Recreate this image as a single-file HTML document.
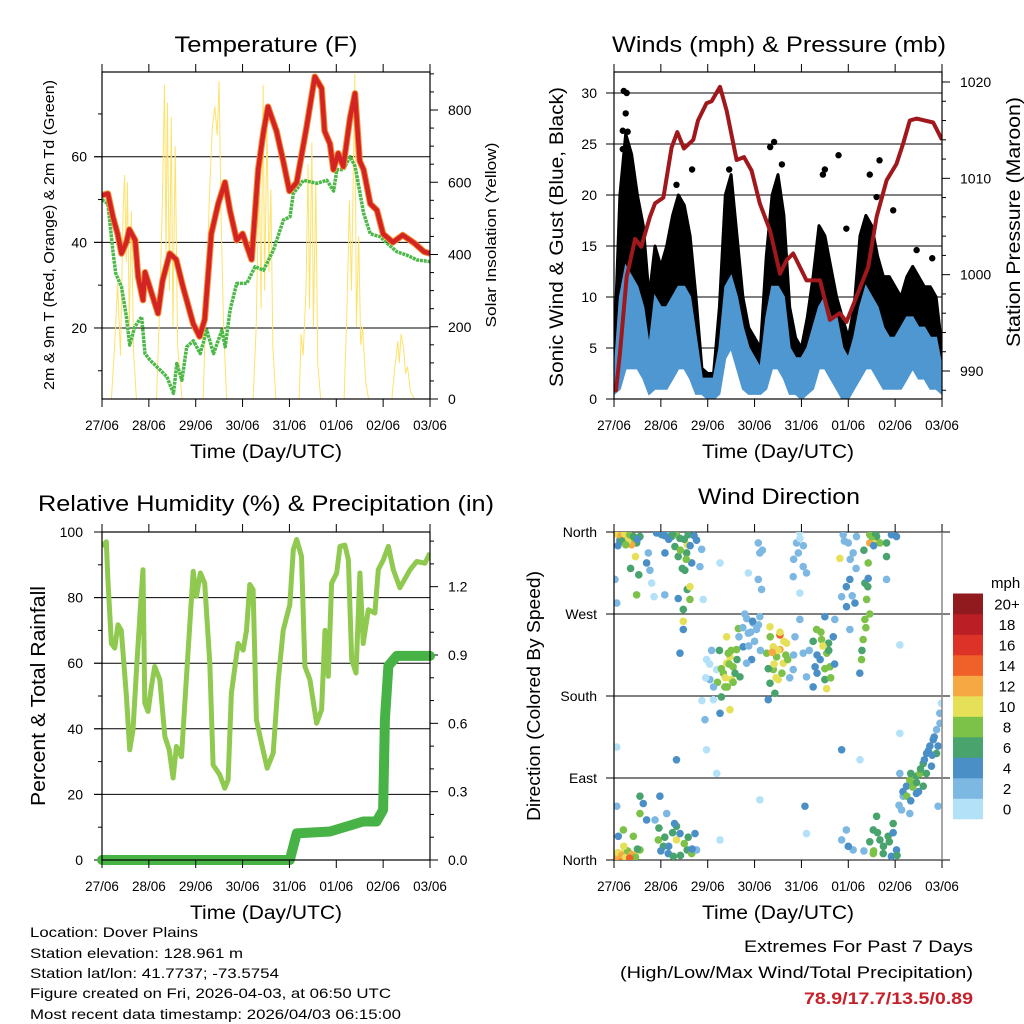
<!DOCTYPE html>
<html><head><meta charset="utf-8"><title>Station Meteogram</title>
<style>
html,body{margin:0;padding:0;background:#fff;}
svg{display:block;font-family:"Liberation Sans",Arial,sans-serif;}
</style></head>
<body>
<svg id="root" width="1024" height="1024" viewBox="0 0 1024 1024" xmlns="http://www.w3.org/2000/svg">
<rect x="0" y="0" width="1024" height="1024" fill="#fff"/>
<text x="266" y="52" font-size="22" text-anchor="middle" textLength="183" lengthAdjust="spacingAndGlyphs">Temperature (F)</text>
<text x="779" y="52" font-size="22" text-anchor="middle" textLength="334" lengthAdjust="spacingAndGlyphs">Winds (mph) &amp; Pressure (mb)</text>
<text x="266" y="511" font-size="22" text-anchor="middle" textLength="456" lengthAdjust="spacingAndGlyphs">Relative Humidity (%) &amp; Precipitation (in)</text>
<text x="779" y="504" font-size="22" text-anchor="middle" textLength="162" lengthAdjust="spacingAndGlyphs">Wind Direction</text>

<text transform="translate(54,235) rotate(-90)" font-size="15" text-anchor="middle" textLength="310" lengthAdjust="spacingAndGlyphs">2m &amp; 9m T (Red, Orange) &amp; 2m Td (Green)</text>
<text transform="translate(496,235) rotate(-90)" font-size="15" text-anchor="middle" textLength="185" lengthAdjust="spacingAndGlyphs">Solar Insolation (Yellow)</text>
<text transform="translate(563,237) rotate(-90)" font-size="19" text-anchor="middle" textLength="300" lengthAdjust="spacingAndGlyphs">Sonic Wind &amp; Gust (Blue, Black)</text>
<text transform="translate(1020,222) rotate(-90)" font-size="19" text-anchor="middle" textLength="250" lengthAdjust="spacingAndGlyphs">Station Pressure (Maroon)</text>
<text transform="translate(45,696) rotate(-90)" font-size="20" text-anchor="middle" textLength="220" lengthAdjust="spacingAndGlyphs">Percent &amp; Total Rainfall</text>
<text transform="translate(540,696) rotate(-90)" font-size="18" text-anchor="middle" textLength="250" lengthAdjust="spacingAndGlyphs">Direction (Colored By Speed)</text>

<text x="266" y="458" font-size="19" text-anchor="middle" textLength="152" lengthAdjust="spacingAndGlyphs">Time (Day/UTC)</text>
<text x="778" y="458" font-size="19" text-anchor="middle" textLength="152" lengthAdjust="spacingAndGlyphs">Time (Day/UTC)</text>
<text x="266" y="919" font-size="19" text-anchor="middle" textLength="152" lengthAdjust="spacingAndGlyphs">Time (Day/UTC)</text>
<text x="778" y="919" font-size="19" text-anchor="middle" textLength="152" lengthAdjust="spacingAndGlyphs">Time (Day/UTC)</text>

<g font-size="14">
<text x="30" y="937" textLength="168" lengthAdjust="spacingAndGlyphs">Location: Dover Plains</text>
<text x="30" y="958" textLength="213" lengthAdjust="spacingAndGlyphs">Station elevation: 128.961 m</text>
<text x="30" y="978" textLength="249" lengthAdjust="spacingAndGlyphs">Station lat/lon: 41.7737; -73.5754</text>
<text x="30" y="998" textLength="361" lengthAdjust="spacingAndGlyphs">Figure created on Fri, 2026-04-03, at 06:50 UTC</text>
<text x="30" y="1019" textLength="371" lengthAdjust="spacingAndGlyphs">Most recent data timestamp: 2026/04/03 06:15:00</text>
</g>
<g font-size="17" text-anchor="end">
<text x="973" y="952" textLength="229" lengthAdjust="spacingAndGlyphs">Extremes For Past 7 Days</text>
<text x="973" y="978" textLength="353" lengthAdjust="spacingAndGlyphs">(High/Low/Max Wind/Total Precipitation)</text>
<text x="973" y="1004" font-weight="bold" fill="#c8202a" textLength="169" lengthAdjust="spacingAndGlyphs">78.9/17.7/13.5/0.89</text>
</g>
<g id="charts"></g>
</svg>
<script>
// ---- time axis ----
const dayLabels = ["27/06","28/06","29/06","30/06","31/06","01/06","02/06","03/06"];
// ---- temperature panel ----
const tempTimes = [0,3,5.6,8,10,12.5,14,17,18.5,21,22,24.4,28.7,31,34.7,38,41.5,46.7,50,52.6,56,59.5,63,65.5,69,72,76.6,80,82.6,85,89.4,92.8,96,99.7,104.8,109,112.5,114,116.8,118.5,121,123.6,127,129.6,132,134,137.4,140.8,144,149,154,160,165,168];
const tempValues = [51,51.4,46,42,37.4,40,43,40.5,32,26.5,33,29.6,23.4,31,37.4,36,29.6,21,18,22,42,49,54,47.5,40.5,42,36,57,65.5,71.7,66,59,52,54,67,78.7,76,66,63,57,60.8,57.7,69,74.8,59,57,49,47.5,42,40,41.7,39.8,37.8,37.4];
const dewTimes = [0,3,5.6,7,10,12.5,14.2,16.8,20.3,22,24.6,29.7,33.2,36.6,38.3,40.9,43.4,46.8,50.3,53.7,57.1,61.4,63.1,65.6,69,74.1,78.4,82.7,87.8,92.9,96.3,98,103.2,110,115.2,118.6,120.3,123.7,127.1,129.7,132.2,134,137.4,142.6,146,151.1,156.2,161.3,168];
const dewValues = [50,49,38,32.8,29.6,22.6,16,20.3,22.6,14,12.5,10.2,8.6,4.7,11.7,7.8,15.6,17,14,19.5,14,19.5,15.6,24.2,30.4,30.4,34.3,33.5,38.2,45.2,46,51.4,54.5,53.8,54.5,52,57,57,60,57.7,51.4,46.8,42,41.3,39.8,37.8,37,35.9,35.5];
const solarTimes = [0,4.8,6.5,8,9.5,10.8,11.6,12.4,13,14,15,16.2,17.6,27.9,29.5,31,32,32.8,33.5,34.5,35.5,36.3,37.5,38.7,41,51.8,53.5,55,56.5,57.8,59,60,61,62.3,63.8,77.4,79,80.5,81.5,82.5,83.3,84.5,85.5,86.5,87.5,89,101,102,103,104.5,105.5,106.3,107.5,108.3,109.5,110.5,112,124,125.5,126.7,127.8,129.5,130.3,131.5,132.5,133.5,135,136.5,148.5,150,151.5,152.3,153.2,154.5,155.5,156.5,158,160,168];
const solarValues = [0,0,150,320,120,520,620,380,600,200,520,130,0,0,250,560,870,400,820,300,780,200,700,150,0,0,300,560,750,810,730,880,500,200,0,0,200,650,250,870,300,760,350,580,150,0,0,180,120,300,650,250,710,200,600,100,0,0,250,550,300,900,200,450,150,200,50,0,0,90,160,100,180,140,70,90,20,0,0];
const tempTicks = [20,40,60];
const solarTicks = [0,200,400,600,800];
// ---- wind panel ----
const windTimes = [0,3,6,9,12,15,18,21,24,27,30,33,36,39,42,45,48,51,54,57,60,63,66,69,72,75,78,81,84,87,90,93,96,99,102,105,108,111,114,117,120,123,126,129,132,135,138,141,144,147,150,153,156,159,162,165,168];
const windLow = [0.5,1,3,3,3,2,0.5,1,1,1,2,3,3,2,0.5,0.5,0,0,0.5,4,5,3,1,0.5,0.5,0.5,1,3,3,2,0.5,0.5,0,0.5,1,3,3,2,1,0,0,1,2,3,3,2,1,1,1,1,2,3,2,2,1,1,0.5];
const windHigh = [2,10,13,12,11,9,5,10,9,9,10,11,11,10,6,2,2,2,5,11,12,10,7,5,4,3,8,11,11,10,5,4,4,5,7,9,10,8,8,5,4,6,9,11,10,9,7,6,6,7,8,8,7,7,6,6,3];
const gustLow = [1,5,8,8,8,5,2,5,5,6,7,8,8,5,3,1,1,1,3,10,10,7,4,3,2,2,4,7,8,6,3,2,2,3,4,7,6,5,3,2,1,3,6,8,8,6,4,4,4,4,6,7,6,6,5,4,2];
const gustHigh = [4,20,26,24,20,17,10,15,13,15,18,20,19,16,10,3,2.5,2.5,9,20,22,16,10,7,6,5,14,20,22,18,9,6,5,8,12,17,16,13,10,8,6,9,16,18,17,14,12,12,11,10,12,13,12,11,11,10,5];
const gustOutT = [5,6.5,6,4.5,7,4.5,32,40,59,80,82,86,107,108,115,119,131,136,143,134.5,155,163];
const gustOutV = [30.2,30,28,26.3,26.2,24.5,21,22.5,22.5,24.7,25.2,23,22,22.5,23.9,16.7,22,23.4,18.5,19.8,14.6,13.8];
const presTimes = [0,1,3,6.5,10.8,14,18.4,21,25.3,29.5,32.4,35.8,40.6,43,47.4,50,54.3,57.7,62.8,66.6,70.5,74.7,79.9,85,88.4,91.8,98.6,105.5,110.6,115.7,119.1,123.4,130.2,134.5,139.6,144.7,148.1,151.5,155,163.5,168];
const presValues = [988.7,988,991.8,999.8,1003.7,1002.9,1006,1007.4,1008,1013.2,1014.8,1013.1,1014,1016,1017.8,1018,1019.5,1017,1011.9,1012.2,1010.8,1007.4,1004.6,1000.1,1001.5,1002.2,999.4,999.4,995.3,996,995.1,997.3,1000.8,1006,1009.8,1011.5,1013.6,1016,1016.2,1015.8,1014];
const windTicks = [0,5,10,15,20,25,30];
const presTicks = [990,1000,1010,1020];
// ---- humidity panel ----
const rhTimes = [0,2.2,3,4.8,6.5,8.2,9.9,12.5,14.2,15.9,17.9,19.8,21,21.9,23.6,25.3,27,29.6,32.2,34.4,36.4,38.1,40.7,43.2,46.7,48.4,50.4,52.6,55.2,56.9,60.3,62.9,64.6,66.3,69.7,72.3,74,75.7,77.4,79.1,81.7,84.6,87.7,90.3,92.8,96.2,98,99.7,102.2,103.9,106.5,109.9,112.5,114.2,115.9,117.6,120.2,121.9,124.4,126.2,127.9,130.1,132.1,133.8,136.4,139.8,141.5,144.1,146.7,149.2,152.6,157.8,161.2,165.4,168];
const rhValues = [95.6,97,85.5,66,64.6,71.7,70,50,33.6,39.7,60,78.3,88.5,47.8,45.3,52.9,59,55,37.6,33.6,25,34.6,31.5,55,88,80.4,87.5,84.4,60,29,26,21.9,24.4,50.9,66,64,70,84,82.4,42.7,35.6,28,32.6,55,70,77.8,94.6,97.7,92.6,59,55,41.7,45.8,70,56,84.4,87.5,95.6,96,91.5,61,57,87.5,66,76.3,75.3,88.5,91.5,95.6,88.5,83,88.5,91,90.5,93.6];
const precipTimes = [0,96.2,99.7,116.8,125.3,133.8,140.6,144,144.9,146.7,151,168];
const precipValues = [0,0,0.117,0.125,0.147,0.169,0.169,0.22,0.617,0.852,0.896,0.896];
const rhTicks = [0,20,40,60,80,100];
const precipTicks = [0.0,0.3,0.6,0.9,1.2];
// ---- wind direction panel ----
const dirLabels = ["North","East","South","West","North"];
const dirTickDeg = [0,90,180,270,360];
const speedBins = ["0","2","4","6","8","10","12","14","16","18","20+"];
const speedColors = ["#b3e1f7","#7db8e2","#4a8fc6","#48a36d","#7cc148","#e6e059","#f6a843","#ef6128","#dc3228","#bb1f25","#901a1e"];
const dirT = [2.2,4.8,6.5,8.2,9.9,11.6,13.3,9,11,12.7,11.6,8.5,3,0.5,1.4,17.6,18.4,19.3,16.7,20.5,26,
21.8,24.4,27,29.5,31.2,32.9,32,33.8,37.5,37.2,38,36.3,37.5,35.5,35.5,35.5,38.9,38.9,42.3,44.9,44,45.7,39.8,33.8,26.1,32.9,
56,57.7,59.4,61,62.8,56.8,60.2,64.5,58.5,55,54.3,50.9,49.1,47.4,46.6,52.6,66.2,68.8,71.3,73,74.7,70.5,67.9,57.7,63.7,59.4,
79.9,81.6,83.3,85,86.7,88.4,81.6,84.1,79.9,82.4,79,85,89,91.8,92.7,95.2,96.9,98.6,78.2,
103.8,106.3,109,110.6,108,105.6,103,109.9,102,112.3,113.1,108,108.9,
73.9,74.7,73.9,75.6,93.5,95.2,94.4,96.9,91.8,98.6,95.2,117.4,120,122.5,115.7,120.8,116.6,119.1,124.2,123.4,120.8,125.9,
131,132.8,131,134.5,136.2,139.6,142.1,144.7,130.2,128.5,129.4,128.5,127.6,126.8,130.2,139.6,139.6,146.4,
3,5.6,8.2,10.8,3.9,13.3,2.2,4.8,9.9,13.3,15,13.3,16.7,1.4,22.7,25.3,27.8,30.4,32,33.8,37.5,39.8,42.3,23.5,27,32,21,41.5,
116.6,119,122.5,132.8,132.8,134.5,136.2,137.9,140.4,142.1,143,144.7,147.3,148.1,149.8,151.5,153.2,154.9,156.7,158.4,160.1,161.8,163.5,165.2,166.9,167.7,154.9,151.5,162.6,165.2,158.4,146.4,146.4,166,
54.3,68.8,74.7,97.8,98.6,54.3,47.4,52.6,116.6,126,1.4,32,
1,3.5,5.5,7,8,10,4,6,12,2,
1,2,4,6,7,9,11,12,5,8,
24,26,28,30,34,36,38,40,23,31,
23,26,28,30,34,36,39,41,37,35,
53,55,57,59,61,63,54,58,60,62,47,49,51,45,50,
64,66,68,70,72,74,67,71,75,69,
80,82,84,86,88,83,81,87,79,85,90,92,
102,104,106,108,110,107,111,104,100,113,
128,130,131,129,127,132,134,133,
120,128,131,133,135,138,141,143,145,146,148,150,152,153,155,157,159,161,163,164,166,167,152,156,160,
76,92,95,97,118,121,124,119,122];
const dirDeg = [357,355,357,353,351,348,355,346,333,313,291,320,351,308,282,337,318,304,326,289,291,
359,357,359,355,344,333,357,353,346,337,357,318,297,275,262,253,300,286,351,341,322,286,326,227,337,287,
205,216,223,212,231,190,198,201,227,179,161,176,198,220,154,209,234,249,260,253,267,220,216,245,254,165,
256,234,223,231,216,238,209,198,194,183,176,247,220,209,245,264,227,201,227,
253,242,227,212,198,220,212,238,190,245,264,267,188,
348,337,308,297,348,353,337,322,311,315,293,357,348,337,331,308,289,278,355,282,253,205,
357,351,348,355,348,348,357,355,326,304,286,264,242,220,309,333,308,236,
7,9,7,5,2,11,26,33,26,51,62,70,44,59,22,15,7,4,22,29,11,7,11,70,51,37,44,29,
22,33,11,7,33,48,22,7,26,4,40,11,55,70,81,88,84,92,95,106,117,125,132,143,161,172,73,51,103,117,81,139,95,59,
326,315,66,59,29,22,121,95,121,110,124,110,
358,356,358,350,357,355,350,346,352,345,
3,8,5,3,10,6,3,12,15,2,
10,25,15,30,5,18,25,12,35,40,
359,356,352,358,340,352,345,356,330,320,
195,210,200,215,195,220,230,190,230,205,200,215,190,175,230,
245,255,265,250,240,258,270,262,230,235,
245,215,230,205,225,200,228,240,210,250,200,225,
240,225,250,210,230,235,200,205,230,215,
340,300,270,255,230,355,358,345,
15,10,20,10,30,15,20,30,5,60,75,70,95,80,85,100,110,120,115,135,125,150,65,75,95,
340,330,360,345,350,330,320,300,290];
const dirSpd = [10,12,12,10,8,6,6,12,10,6,8,6,4,2,2,2,2,0,4,0,2,
4,4,2,6,6,6,8,6,10,6,6,6,6,6,10,4,10,8,4,2,2,0,4,4,4,4,
8,10,10,8,8,8,10,6,8,6,4,0,2,0,2,0,4,2,2,2,2,4,2,10,8,10,
10,10,8,12,10,10,8,10,6,6,4,14,8,2,2,2,2,2,8,
8,8,8,8,6,4,4,6,4,4,2,4,10,
2,2,2,2,2,0,2,2,2,2,0,2,2,2,10,4,2,4,2,4,2,4,
8,10,12,6,8,6,4,4,8,6,8,8,8,8,4,6,2,0,
12,10,12,10,14,8,4,8,8,8,4,6,4,2,8,6,4,6,10,4,6,8,2,4,2,6,2,4,
2,2,2,8,6,6,6,6,6,4,6,4,2,2,4,8,8,6,8,6,4,4,4,2,2,0,4,2,4,6,6,0,2,2,
0,0,0,4,0,0,0,0,4,0,0,4,
10,12,10,10,8,6,6,8,4,4,
12,10,12,10,8,12,8,6,10,14,
4,6,4,6,6,8,6,4,6,4,
4,4,4,6,8,6,4,4,8,6,
8,8,10,8,8,6,6,8,8,6,0,0,2,0,2,
2,2,2,2,2,2,2,4,2,2,
8,10,10,8,8,10,12,10,6,10,2,2,
6,4,8,8,6,10,8,4,2,4,
6,6,8,8,6,8,6,4,
4,2,6,8,6,6,6,4,6,2,4,8,6,8,6,6,4,4,4,4,4,2,4,4,6,
2,2,0,2,2,2,2,4,2];

const NS = "http://www.w3.org/2000/svg";
const charts = document.getElementById("charts");
function mk(tag, attrs, parent, text){
  const e = document.createElementNS(NS, tag);
  for (const k in attrs) e.setAttribute(k, attrs[k]);
  if (text !== undefined) e.textContent = text;
  (parent || charts).appendChild(e);
  return e;
}
const P = {
  temp:{x0:102,x1:430,y0:72,y1:399},
  wind:{x0:614,x1:942,y0:72,y1:399},
  rh:{x0:102,x1:430,y0:532,y1:860},
  dir:{x0:614,x1:942,y0:532,y1:860}
};
function xScale(p){ return t => p.x0 + t/168*(p.x1-p.x0); }
function lin(d0,d1,r0,r1){ return v => r0 + (v-d0)/(d1-d0)*(r1-r0); }
const xT = xScale(P.temp), xW = xScale(P.wind), xR = xScale(P.rh), xD = xScale(P.dir);
const yT = lin(3.4,79.8,399,72);
const yS = lin(0,800,399,110);
const yWs = lin(0,30,399,93);
const yP = lin(990,1020,371,82);
const yR = lin(0,100,860,532);
const yPr = lin(0,0.9,860,655);
const yD = lin(0,360,860,532);

function pathD(ts, vs, xs, ys){
  return ts.map((t,i)=>(i?"L":"M")+xs(t).toFixed(1)+","+ys(vs[i]).toFixed(1)).join("");
}
function bandD(ts, lo, hi, xs, ys){
  let d = ts.map((t,i)=>(i?"L":"M")+xs(t).toFixed(1)+","+ys(hi[i]).toFixed(1)).join("");
  for (let i=ts.length-1;i>=0;i--) d += "L"+xs(ts[i]).toFixed(1)+","+ys(lo[i]).toFixed(1);
  return d+"Z";
}
function clip(id,p){
  const cp = mk("clipPath",{id:id});
  mk("rect",{x:p.x0,y:p.y0,width:p.x1-p.x0,height:p.y1-p.y0},cp);
}
clip("cT",P.temp); clip("cW",P.wind); clip("cR",P.rh); clip("cD",P.dir);

function timeAxis(p, xs, name){
  const g = mk("g",{});
  
  
  dayLabels.forEach((lab,i)=>{
    const x = xs(i*24);
    mk("line",{x1:x,x2:x,y1:p.y1,y2:p.y1+8,stroke:"#000","stroke-width":1},g);
    mk("line",{x1:x,x2:x,y1:p.y0,y2:p.y0-8,stroke:"#000","stroke-width":1},g);
    const tx = mk("text",{x:x,y:p.y1+31,"font-size":13.5,"text-anchor":"middle"},g,lab);
    
    
  });
}
function yAxis(p, ys, majors, minors, side, fmt, grid, name, labelX){
  const g = mk("g",{});
  
  
  const xe = side==="left"?p.x0:p.x1, dir = side==="left"?-1:1;
  minors.forEach(v=>{ const y=ys(v); mk("line",{x1:xe,x2:xe+dir*4,y1:y,y2:y,stroke:"#000"},g); });
  majors.forEach(v=>{
    const y=ys(v);
    if (grid) mk("line",{x1:p.x0-8,x2:p.x1,y1:y,y2:y,stroke:"#000","stroke-width":1},g);
    mk("line",{x1:xe,x2:xe+dir*8,y1:y,y2:y,stroke:"#000"},g);
    const tx = mk("text",{x:labelX,y:y+5,"font-size":14,"text-anchor":side==="left"?"end":"start"},g,fmt(v));
    
    
  });
}
function range(a,b,s){ const r=[]; for(let v=a; v<=b+1e-9; v+=s) r.push(+v.toFixed(3)); return r; }

// ===== Temperature panel =====
yAxis(P.temp, yT, tempTicks, [10,30,50,70], "left", v=>String(v), true, "temperature-y-axis", 87);
yAxis(P.temp, yS, solarTicks, range(50,900,50).filter(v=>v%200), "right", v=>String(v), false, "solar-y-axis", 448);
const solar = mk("path",{d:pathD(solarTimes,solarValues,xT,yS),fill:"none",stroke:"#fde26a","stroke-width":1,"clip-path":"url(#cT)"});


const dew = mk("path",{d:pathD(dewTimes,dewValues,xT,yT),fill:"none",stroke:"#4cb848","stroke-width":3.5,"stroke-dasharray":"3 0.8","stroke-linejoin":"round","clip-path":"url(#cT)"});


const t9 = mk("path",{d:pathD(tempTimes,tempValues,xT,yT),fill:"none",stroke:"#f28a2e","stroke-width":6.5,"stroke-linejoin":"round","clip-path":"url(#cT)"});


const t2 = mk("path",{d:pathD(tempTimes,tempValues,xT,yT),fill:"none",stroke:"#d42323","stroke-width":4.5,"stroke-linejoin":"round","clip-path":"url(#cT)"});


timeAxis(P.temp, xT, "temperature");
const bT = mk("rect",{x:P.temp.x0,y:P.temp.y0,width:328,height:327,fill:"none",stroke:"#000","stroke-width":1.2});



// ===== Wind panel =====
yAxis(P.wind, yWs, windTicks, [], "left", v=>String(v), true, "wind-y-axis", 597);
yAxis(P.wind, yP, presTicks, range(988,1020,2).filter(v=>v%10), "right", v=>String(v), false, "pressure-y-axis", 960);
const gust = mk("path",{d:bandD(windTimes,gustLow,gustHigh,xW,yWs),fill:"#000",stroke:"#000","stroke-width":3,"stroke-linejoin":"round","clip-path":"url(#cW)"});


gustOutT.forEach((t,i)=>{
  const c = mk("circle",{cx:xW(t),cy:yWs(gustOutV[i]),r:3.2,fill:"#000"});
  
  
});
const wind = mk("path",{d:bandD(windTimes,windLow,windHigh,xW,yWs),fill:"#4f97d1",stroke:"#4f97d1","stroke-width":2,"clip-path":"url(#cW)"});


const pres = mk("path",{d:pathD(presTimes,presValues,xW,yP),fill:"none",stroke:"#a0181c","stroke-width":4,"stroke-linejoin":"round","clip-path":"url(#cW)"});


timeAxis(P.wind, xW, "winds");
const bW = mk("rect",{x:P.wind.x0,y:P.wind.y0,width:328,height:327,fill:"none",stroke:"#000","stroke-width":1.2});



// ===== Humidity panel =====
yAxis(P.rh, yR, rhTicks, [10,30,50,70,90], "left", v=>String(v), true, "humidity-y-axis", 83);
yAxis(P.rh, yPr, precipTicks, range(0.1,1.4,0.1).filter(v=>Math.round(v*10)%3), "right", v=>v.toFixed(1), false, "precip-y-axis", 448);
const rh = mk("path",{d:pathD(rhTimes,rhValues,xR,yR),fill:"none",stroke:"#8fc94f","stroke-width":5,"stroke-linejoin":"round","clip-path":"url(#cR)"});


const pr = mk("path",{d:pathD(precipTimes,precipValues,xR,yPr),fill:"none",stroke:"#47b347","stroke-width":10,"stroke-linejoin":"round","stroke-linecap":"round"});


timeAxis(P.rh, xR, "humidity");
const bR = mk("rect",{x:P.rh.x0,y:P.rh.y0,width:328,height:328,fill:"none",stroke:"#000","stroke-width":1.2});



// ===== Wind direction panel =====
dirTickDeg.forEach((d,i)=>{
  const y = yD(d);
  const gl = mk("line",{x1:P.dir.x0-8,x2:P.dir.x1+8,y1:y,y2:y,stroke:"#000","stroke-width":1});
  
  
  const tl = mk("text",{x:597,y:y+5,"font-size":14,"text-anchor":"end"},charts,dirLabels[i]);
  
  
});
dirT.forEach((t,i)=>{
  const bin = Math.min(10, Math.floor(dirSpd[i]/2));
  const c = mk("circle",{cx:xD(t),cy:yD(dirDeg[i]),r:3.8,fill:speedColors[bin],"clip-path":"url(#cD)"});
  
  
});
timeAxis(P.dir, xD, "direction");
const bD1 = mk("line",{x1:P.dir.x0,x2:P.dir.x0,y1:P.dir.y0,y2:P.dir.y1,stroke:"#000","stroke-width":1.2});


const bD2 = mk("line",{x1:P.dir.x1,x2:P.dir.x1,y1:P.dir.y0,y2:P.dir.y1,stroke:"#888","stroke-width":1.5});



// legend
const lg = mk("g",{});


const lt = mk("text",{x:991,y:588,"font-size":15},lg,"mph");


const boxH = 20.5;
speedBins.forEach((lab,i)=>{
  const y = 819 - (i+1)*boxH;
  const r = mk("rect",{x:953,y:y,width:30,height:boxH+0.3,fill:speedColors[i]},lg);
  
  
  const tx = mk("text",{x:1007,y:y+boxH/2+5.5,"font-size":15,"text-anchor":"middle"},lg,lab);
  
  
});
</script>
</body></html>
